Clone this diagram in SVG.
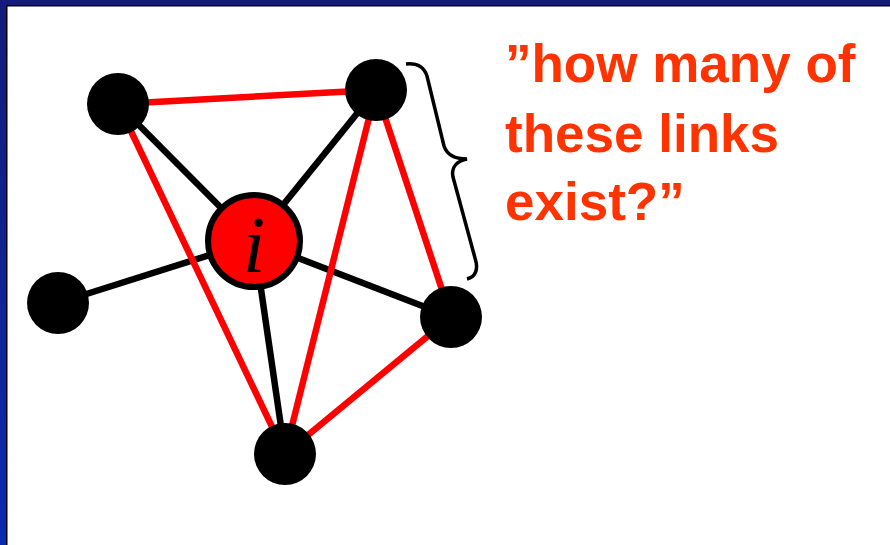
<svg xmlns="http://www.w3.org/2000/svg" width="890" height="545" viewBox="0 0 890 545">
  <defs>
    <linearGradient id="lg" x1="0" y1="0" x2="0" y2="1">
      <stop offset="0" stop-color="#151c78"/>
      <stop offset="1" stop-color="#0a2bb0"/>
    </linearGradient>
  </defs>
  <style>
    .blk { stroke: #000; stroke-width: 6.5; fill: none; }
    .red { stroke: #ff0000; stroke-width: 6.5; fill: none; }
    .node { fill: #000; }
    .lbl { font-family: "Liberation Sans", Arial, sans-serif; font-weight: bold; font-size: 53px; fill: #ff3300; }
  </style>
  <rect width="890" height="545" fill="#fff"/>
  <g id="frame">
    <rect x="0" y="0" width="890" height="5" fill="#151c78"/>
    <rect x="0" y="0" width="6" height="545" fill="url(#lg)"/>
    <rect x="6" y="5" width="884" height="1.5" fill="#000"/>
    <rect x="6" y="5" width="1.5" height="540" fill="#000"/>
  </g>
  <g id="connectors">
    <line class="blk" x1="254" y1="241" x2="118" y2="104"/>
    <line class="blk" x1="254" y1="241" x2="376" y2="90"/>
    <line class="blk" x1="254" y1="241" x2="58" y2="303"/>
    <line class="blk" x1="254" y1="241" x2="451" y2="317"/>
    <line class="blk" x1="254" y1="241" x2="285" y2="454"/>
    <line class="red" x1="118" y1="104" x2="376" y2="90"/>
    <line class="red" x1="118" y1="104" x2="285" y2="454"/>
    <line class="red" x1="376" y1="90" x2="285" y2="454"/>
    <line class="red" x1="376" y1="90" x2="451" y2="317"/>
    <line class="red" x1="451" y1="317" x2="285" y2="454"/>
  </g>
  <g id="n1"><circle class="node" cx="118" cy="104" r="31"/></g>
  <g id="n2"><circle class="node" cx="376" cy="90" r="31"/></g>
  <g id="n3"><circle class="node" cx="58" cy="303" r="31"/></g>
  <g id="n4"><circle class="node" cx="451" cy="317" r="31"/></g>
  <g id="n5"><circle class="node" cx="285" cy="454" r="31"/></g>
  <g id="ni">
    <circle cx="254" cy="241" r="46" fill="#ff0000" stroke="#000" stroke-width="6"/>
    <text x="254" y="272" text-anchor="middle" font-family="'Liberation Serif', 'Times New Roman', serif" font-style="italic" font-size="80">i</text>
  </g>
  <g id="brace">
    <path d="M406,64 C418,63 424,67 427,76 L444,146 C447,155 456,159 467,159 C457,161 451,167 453,177 L475,258 C479,270 475,277 467,279" fill="none" stroke="#000" stroke-width="3.5"/>
  </g>
  <g id="label">
    <text class="lbl"><tspan x="505" y="82">”how many of</tspan><tspan x="505" y="152">these links</tspan><tspan x="505" y="220">exist?”</tspan></text>
  </g>
</svg>
